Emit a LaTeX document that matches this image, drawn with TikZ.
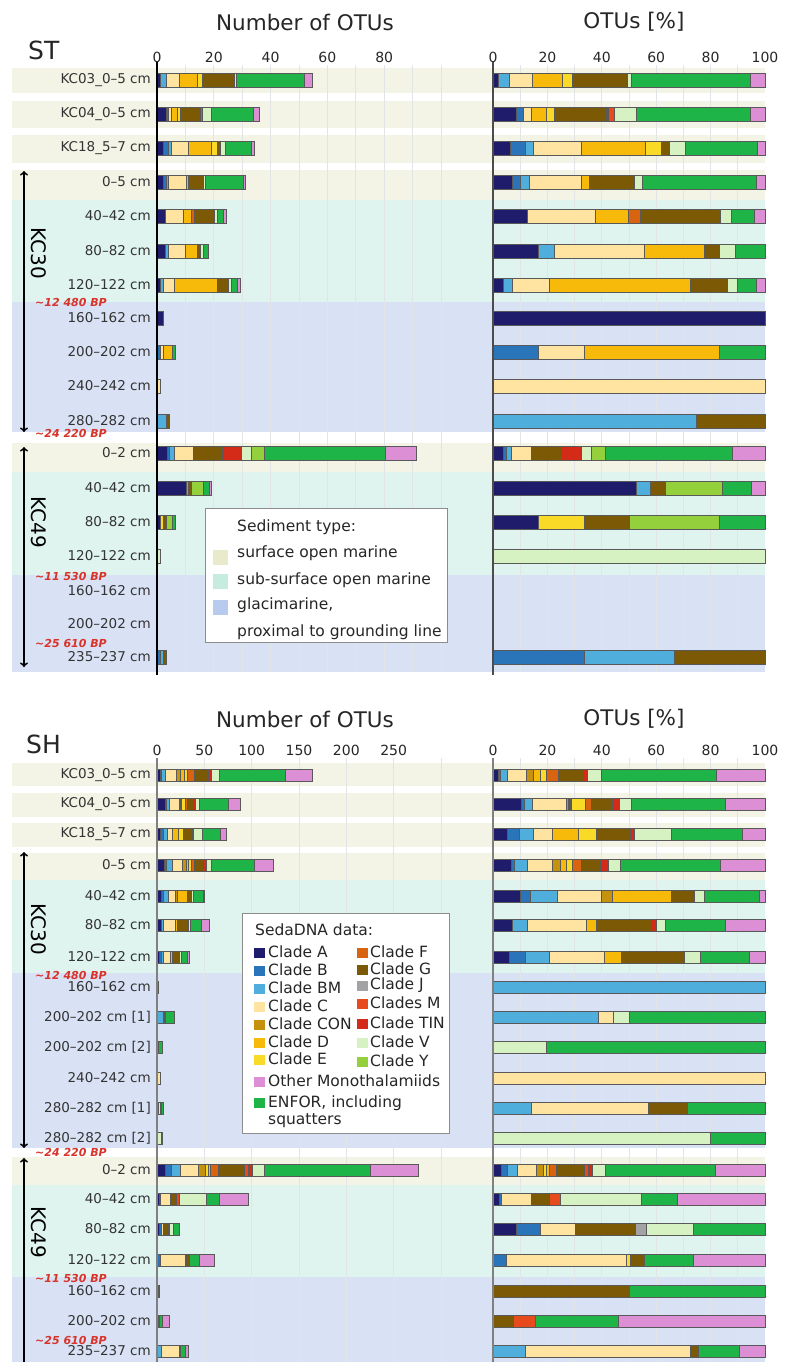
\documentclass[tikz,border=0pt]{standalone}
\usepackage{fontspec}
\setmainfont{DejaVu Sans}

\definecolor{cA}{HTML}{1F1C6B}
\definecolor{cB}{HTML}{2A74B9}
\definecolor{cBM}{HTML}{4FAEDB}
\definecolor{cC}{HTML}{FFE3A0}
\definecolor{cCON}{HTML}{C4920F}
\definecolor{cD}{HTML}{F7B90A}
\definecolor{cE}{HTML}{F9DA26}
\definecolor{cF}{HTML}{D9640F}
\definecolor{cG}{HTML}{7C5A05}
\definecolor{cJ}{HTML}{A3A3A6}
\definecolor{cM}{HTML}{E74A1C}
\definecolor{cTIN}{HTML}{D32B17}
\definecolor{cV}{HTML}{D7F2C2}
\definecolor{cY}{HTML}{94CF3C}
\definecolor{cMono}{HTML}{DD8FD6}
\definecolor{cENF}{HTML}{1EB447}
\definecolor{surf}{HTML}{F4F4E6}
\definecolor{subsurf}{HTML}{DFF4EE}
\definecolor{glaci}{HTML}{D9E2F5}
\definecolor{surfkey}{HTML}{E8EACB}
\definecolor{subsurfkey}{HTML}{C6EBDF}
\definecolor{glacikey}{HTML}{B8CAEE}
\definecolor{bpred}{HTML}{D8342B}
\definecolor{gridgrey}{HTML}{E2E5E5}

\tikzset{
  rowlabel/.style={anchor=east, font=\fontsize{13.5}{14}\selectfont, text=black!80, inner sep=0},
  ticklabel/.style={font=\fontsize{14}{15}\selectfont, text=black!85, inner sep=0},
  charttitle/.style={font=\fontsize{21.5}{24}\selectfont, text=black!85, inner sep=0},
  paneltitle/.style={anchor=west, font=\fontsize{25}{28}\selectfont, text=black!85, inner sep=0},
  corename/.style={font=\fontsize{20}{22}\selectfont, rotate=-90, inner sep=0},
  agelabel/.style={anchor=west, font=\fontsize{11}{12}\selectfont\bfseries\itshape, text=bpred, inner sep=0},
  keytext/.style={anchor=west, font=\fontsize{15.5}{17}\selectfont, text=black!85, inner sep=0},
  keybox/.style={draw=black!45, fill=white, line width=0.8},
  seg/.style={draw=black!65, line width=0.5},
  gridline/.style={draw=gridgrey, line width=0.8},
  corearrow/.style={<->, >=to, line width=1.8},
}

% bar height of the current panel
\newcommand{\barh}{14}
% name, y, label, length of the count bar, colour/cumulative-% list
\newcommand{\otubar}[5]{%
  \node[rowlabel] (#1) at (151,#2) {#3};
  \gdef\otuacc{0}
  \foreach \col/\pend in {#5} {
    \filldraw[seg, fill=\col] (157+#4*0.01*\otuacc,#2-\barh/2) rectangle (157+#4*0.01*\pend,#2+\barh/2);
    \filldraw[seg, fill=\col] (493+2.72*\otuacc,#2-\barh/2) rectangle (493+2.72*\pend,#2+\barh/2);
    \global\let\otuacc\pend
  }
}

\begin{document}
\begin{tikzpicture}[x=1pt, y=-1pt]
    \useasboundingbox (0,0) rectangle (786,1362);
    \fill[white] (0,0) rectangle (786,1362);

    % ---------------- ST ----------------
    \fill[surf] (12,68) rectangle (765,93);
    \fill[surf] (12,101) rectangle (765,128);
    \fill[surf] (12,135) rectangle (765,163);
    \fill[surf] (12,170) rectangle (765,200);
    \fill[subsurf] (12,200) rectangle (765,302);
    \fill[glaci] (12,302) rectangle (765,432);
    \fill[surf] (12,443) rectangle (765,472);
    \fill[subsurf] (12,472) rectangle (765,575);
    \fill[glaci] (12,575) rectangle (765,672);
    \foreach \k in {1,...,10} \draw[gridline] (157+28.4*\k,65) -- (157+28.4*\k,672);
    \foreach \k in {1,...,9} \draw[gridline] (493+27.2*\k,65) -- (493+27.2*\k,672);

    \node[paneltitle] (st) at (28,50) {ST};
    \node[charttitle] (stcount) at (305,22) {Number of OTUs};
    \node[charttitle] (stshare) at (634,22) {OTUs [\%]};
    \foreach \v [count=\i] in {0,20,40,60,80} \node[ticklabel] (stn\i) at (157+2.84*\v,57) {\v};
    \foreach \v [count=\i] in {0,20,40,60,80,100} \node[ticklabel] (stp\i) at (493+2.72*\v,57) {\v};

    \otubar{stkc03}{80}{KC03\_0--5 cm}{155.7}{cA/2, cBM/5.8, cC/14.6, cD/25.6, cE/29, cG/49.4, cV/50.7, cENF/94.5, cMono/100}
    \otubar{stkc04}{114}{KC04\_0--5 cm}{102.3}{cA/8.7, cB/11.3, cC/14.1, cD/19.7, cE/22.4, cG/41.5, cTIN/42.4, cM/44.6, cV/52.8, cENF/94.5, cMono/100}
    \otubar{stkc18}{148}{KC18\_5--7 cm}{97}{cA/6.3, cB/12, cBM/14.8, cC/32.6, cD/56.1, cE/61.8, cG/64.8, cV/70.6, cENF/97.3, cMono/100}
    \otubar{sta1}{182}{0--5 cm}{88.7}{cA/6.9, cB/9.9, cBM/13.2, cC/32.6, cD/35.4, cG/52, cV/54.9, cENF/96.9, cMono/100}
    \otubar{sta2}{216}{40--42 cm}{69}{cA/12.6, cC/37.7, cD/49.9, cF/54.3, cG/83.5, cV/87.5, cENF/96.1, cMono/100}
    \otubar{sta3}{251}{80--82 cm}{51.7}{cA/16.7, cBM/22.4, cC/55.6, cD/77.7, cG/83.2, cV/89, cENF/100}
    \otubar{sta4}{285}{120--122 cm}{83}{cA/3.8, cBM/7.1, cC/20.7, cD/72.4, cG/86.3, cV/89.8, cENF/96.7, cMono/100}
    \otubar{sta5}{318}{160--162 cm}{6.7}{cA/100}
    \otubar{sta6}{352}{200--202 cm}{18}{cB/16.7, cC/33.5, cD/83.2, cENF/100}
    \otubar{sta7}{386}{240--242 cm}{3.7}{cC/100}
    \otubar{sta8}{421}{280--282 cm}{12}{cBM/74.9, cG/100}
    \otubar{stb1}{453}{0--2 cm}{259.7}{cA/3.8, cB/4.8, cBM/6.6, cC/14, cG/25.1, cTIN/32.6, cV/36.2, cY/41.4, cENF/88.1, cMono/100}
    \otubar{stb2}{488}{40--42 cm}{54.7}{cA/52.8, cBM/57.7, cG/63.2, cY/84.3, cENF/94.9, cMono/100}
    \otubar{stb3}{522}{80--82 cm}{18.7}{cA/16.7, cE/33.5, cG/50, cY/83.2, cENF/100}
    \otubar{stb4}{556}{120--122 cm}{3.7}{cV/100}
    \node[rowlabel] (stb5) at (151,591) {160--162 cm};
    \node[rowlabel] (stb6) at (151,624) {200--202 cm};
    \otubar{stb7}{657}{235--237 cm}{9.7}{cB/33.5, cBM/66.7, cG/100}

    \draw[line width=2.5] (157,62) -- (157,675);
    \draw[black!70, line width=1.4] (493,62) -- (493,675);

    \coordinate (st30top) at (24,171);
    \coordinate (st30bot) at (24,432);
    \coordinate (st49top) at (24,447);
    \coordinate (st49bot) at (24,667);
    \draw[corearrow] (st30top) -- (st30bot);
    \draw[corearrow] (st49top) -- (st49bot);
    \node[corename] (st30) at (39,253) {KC30};
    \node[corename] (st49) at (39,522) {KC49};
    \node[agelabel] (stage1) at (35,302) {\textasciitilde12 480 BP};
    \node[agelabel] (stage2) at (35,433) {\textasciitilde24 220 BP};
    \node[agelabel] (stage3) at (35,576) {\textasciitilde11 530 BP};
    \node[agelabel] (stage4) at (35,643) {\textasciitilde25 610 BP};

    \draw[keybox] (205,508) rectangle (447,642);
    \node[keytext] (sedtitle) at (237,527) {Sediment type:};
    \fill[surfkey] (213,550) rectangle (228,565);
    \node[keytext] (sedsurf) at (237,553) {surface open marine};
    \fill[subsurfkey] (213,574) rectangle (228,589);
    \node[keytext] (sedsub) at (237,580) {sub-surface open marine};
    \fill[glacikey] (213,600) rectangle (228,615);
    \node[keytext] (sedglaci) at (237,605) {glacimarine,};
    \node[keytext] (sedglaci2) at (237,632) {proximal to grounding line};

    % ---------------- SH ----------------
    \renewcommand{\barh}{12}
    \fill[surf] (12,763) rectangle (765,786);
    \fill[surf] (12,793) rectangle (765,817);
    \fill[surf] (12,823) rectangle (765,847);
    \fill[surf] (12,853) rectangle (765,880);
    \fill[subsurf] (12,880) rectangle (765,973);
    \fill[glaci] (12,973) rectangle (765,1148);
    \fill[surf] (12,1157) rectangle (765,1185);
    \fill[subsurf] (12,1185) rectangle (765,1277);
    \fill[glaci] (12,1277) rectangle (765,1362);
    \foreach \k in {1,...,6} \draw[gridline] (157+47.33*\k,758) -- (157+47.33*\k,1362);
    \foreach \k in {1,...,9} \draw[gridline] (493+27.2*\k,758) -- (493+27.2*\k,1362);

    \node[paneltitle] (sh) at (26,744) {SH};
    \node[charttitle] (shcount) at (305,719) {Number of OTUs};
    \node[charttitle] (shshare) at (634,719) {OTUs [\%]};
    \foreach \v [count=\i] in {0,50,100,150,200,250} \node[ticklabel] (shn\i) at (157+0.9467*\v,750) {\v};
    \foreach \v [count=\i] in {0,20,40,60,80,100} \node[ticklabel] (shp\i) at (493+2.72*\v,750) {\v};

    \otubar{shkc03}{775}{KC03\_0--5 cm}{155.7}{cA/2, cB/2.6, cBM/5.4, cC/12.4, cCON/14.8, cD/17.3, cE/19.7, cF/24, cG/33.2, cTIN/34.8, cV/39.7, cENF/82.2, cMono/100}
    \otubar{shkc04}{804}{KC04\_0--5 cm}{83}{cA/10.3, cB/11.4, cBM/14.6, cC/26.8, cCON/27.7, cG/28.3, cD/28.9, cE/33.8, cF/36, cG/43.9, cTIN/46.3, cV/50.7, cENF/85.3, cMono/100}
    \otubar{shkc18}{834}{KC18\_5--7 cm}{69}{cA/5.4, cB/9.6, cBM/14.8, cC/21.8, cD/31.4, cE/38.1, cG/50.4, cTIN/52, cV/65.4, cENF/91.8, cMono/100}
    \otubar{sha1}{865}{0--5 cm}{116.3}{cA/6.6, cB/7.8, cBM/12.7, cC/21.8, cCON/24.9, cD/27.1, cE/29.2, cF/32.4, cG/39.6, cTIN/42.2, cV/46.9, cENF/83.7, cMono/100}
    \otubar{sha2}{896}{40--42 cm}{47}{cA/9.9, cB/13.8, cBM/23.8, cC/39.7, cCON/43.9, cD/65.4, cG/73.9, cV/77.7, cENF/97.8, cMono/100}
    \otubar{sha3}{925}{80--82 cm}{52.3}{cA/7.2, cBM/12.6, cC/34.4, cD/37.9, cG/58, cTIN/59.9, cV/63.5, cENF/85.3, cMono/100}
    \otubar{sha4}{957}{120--122 cm}{32.3}{cA/5.9, cB/11.8, cBM/20.6, cC/40.9, cD/47.1, cG/70.3, cV/76.1, cENF/94.1, cMono/100}
    \otubar{sha5}{987}{160--162 cm}{1.5}{cBM/100}
    \otubar{sha6}{1017}{200--202 cm [1]}{17.3}{cBM/38.7, cC/44.2, cV/50, cENF/100}
    \otubar{sha7}{1047}{200--202 cm [2]}{5.3}{cV/19.7, cENF/100}
    \otubar{sha8}{1078}{240--242 cm}{3.7}{cC/100}
    \otubar{sha9}{1108}{280--282 cm [1]}{6.3}{cBM/14.2, cC/57.1, cG/71.4, cENF/100}
    \otubar{sha10}{1138}{280--282 cm [2]}{5.3}{cV/79.8, cENF/100}
    \otubar{shb1}{1170}{0--2 cm}{261}{cA/3.2, cB/5.4, cBM/8.9, cC/16, cCON/18.5, cE/19.7, cD/20.6, cF/23.4, cG/33.6, cM/35.1, cTIN/36.6, cV/41.2, cENF/81.6, cMono/100}
    \otubar{shb2}{1199}{40--42 cm}{91.3}{cA/2.2, cB/3.2, cC/14.2, cG/20.6, cM/24.6, cV/54.4, cENF/67.9, cMono/100}
    \otubar{shb3}{1229}{80--82 cm}{22}{cA/8.5, cB/17.3, cC/30.1, cG/52.2, cJ/56.5, cV/73.7, cENF/100}
    \otubar{shb4}{1260}{120--122 cm}{57.3}{cB/4.8, cC/49.1, cE/50.6, cG/55.5, cENF/73.7, cMono/100}
    \otubar{shb5}{1291}{160--162 cm}{2.3}{cG/50, cENF/100}
    \otubar{shb6}{1321}{200--202 cm}{12.3}{cG/7.5, cM/15.4, cENF/46.1, cMono/100}
    \otubar{shb7}{1351}{235--237 cm}{31.3}{cBM/12, cC/72.4, cG/75.5, cENF/90.6, cMono/100}

    \draw[black!50, line width=1.2] (157,758) -- (157,1362);
    \draw[black!50, line width=1.2] (493,758) -- (493,1362);

    \coordinate (sh30top) at (24,852);
    \coordinate (sh30bot) at (24,1148);
    \coordinate (sh49top) at (24,1158);
    \coordinate (sh49bot) at (24,1368);
    \draw[corearrow] (sh30top) -- (sh30bot);
    \draw[corearrow] (sh49top) -- (sh49bot);
    \node[corename] (sh30) at (39,929) {KC30};
    \node[corename] (sh49) at (39,1232) {KC49};
    \node[agelabel] (shage1) at (35,975) {\textasciitilde12 480 BP};
    \node[agelabel] (shage2) at (35,1152) {\textasciitilde24 220 BP};
    \node[agelabel] (shage3) at (35,1278) {\textasciitilde11 530 BP};
    \node[agelabel] (shage4) at (35,1340) {\textasciitilde25 610 BP};

    \draw[keybox] (242,913) rectangle (449,1133);
    \node[keytext] (dnatitle) at (255,930) {SedaDNA data:};
    \foreach \col/\txt/\yy [count=\i] in {cA/Clade A/952, cB/Clade B/970, cBM/Clade BM/988, cC/Clade C/1006, cCON/Clade CON/1024, cD/Clade D/1042, cE/Clade E/1059} {
      \fill[\col] (254,\yy-4.5) rectangle (265,\yy+5.5);
      \node[keytext] (keyl\i) at (268,\yy) {\txt};
    }
    \foreach \col/\txt/\yy [count=\i] in {cF/Clade F/952, cG/Clade G/969, cJ/Clade J/985, cM/Clades M/1003, cTIN/Clade TIN/1023, cV/Clade V/1042, cY/Clade Y/1061} {
      \fill[\col] (357,\yy-4.5) rectangle (368,\yy+5.5);
      \node[keytext] (keyr\i) at (370,\yy) {\txt};
    }
    \fill[cMono] (254,1076.5) rectangle (265,1086.5);
    \node[keytext] (keymono) at (268,1081) {Other Monothalamiids};
    \fill[cENF] (254,1097.5) rectangle (265,1107.5);
    \node[keytext] (keyenf) at (268,1103) {ENFOR, including};
    \node[keytext] (keyenf2) at (268,1121) {squatters};
\end{tikzpicture}
\end{document}
